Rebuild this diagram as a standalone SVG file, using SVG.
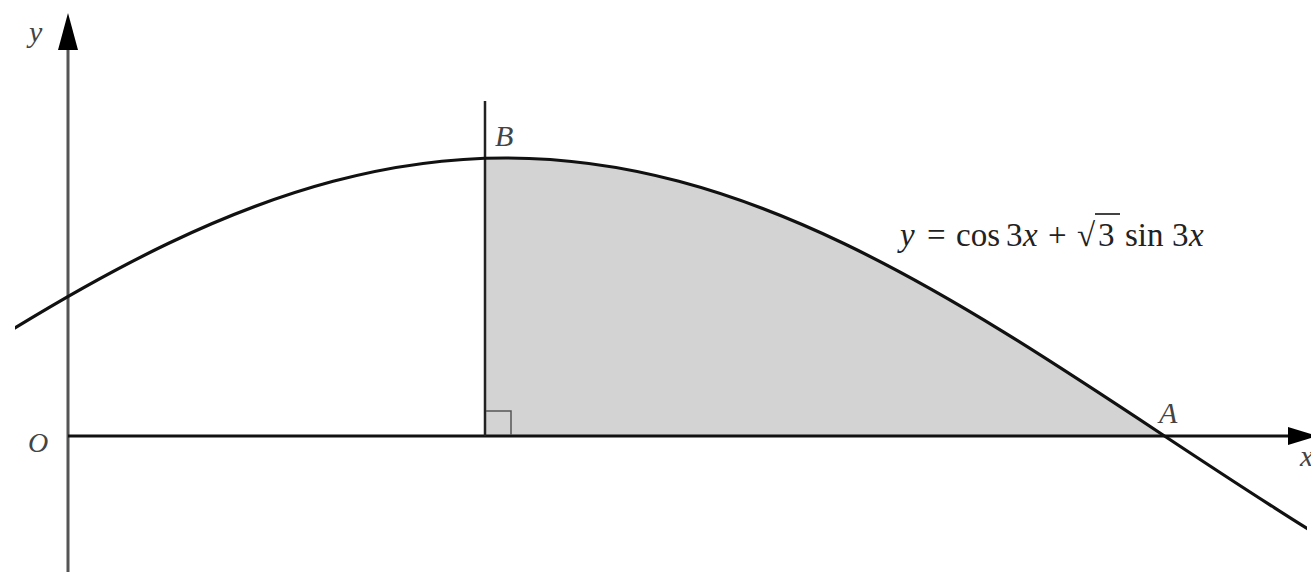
<svg xmlns="http://www.w3.org/2000/svg" width="1311" height="572" viewBox="0 0 1311 572">
<style>
text{font-family:'Liberation Serif','DejaVu Serif','Times New Roman',serif;}
.lbl{font-style:italic;fill:#444;}
.eq{font-size:33px;fill:#222;}
.it{font-style:italic;}
.curve{fill:none;stroke:#111;stroke-width:3.2;}
</style>
<defs>
<clipPath id="cclip"><rect x="15" y="0" width="1292" height="572"/></clipPath>
</defs>
<rect width="1311" height="572" fill="#fff"/>
<g id="shaded-region">
<path d="M485,435 L485,158.3 L506,158 C743.8,158 948.7,293.1 1163,435 Z" fill="#d3d3d3" stroke="none"/>
</g>
<g id="axes">
<line x1="68" y1="572" x2="68" y2="48" stroke="#555" stroke-width="3"/>
<polygon points="68,13 58,50 78,50" fill="#000"/>
<line x1="68" y1="436" x2="1290" y2="436" stroke="#111" stroke-width="3"/>
<polygon points="1318,436 1288,427 1288,445" fill="#000"/>
</g>
<g id="connectors">
<line x1="485" y1="101" x2="485" y2="436" stroke="#222" stroke-width="2.5"/>
<polyline points="486,411 511,411 511,435" fill="none" stroke="#555" stroke-width="1.5"/>
</g>
<g id="curve">
<path class="curve" clip-path="url(#cclip)" d="M-151,435 C63.3,293.1 268.2,158 506,158 C743.8,158 948.7,293.1 1163,435 C1377.3,576.9 1582.2,712 1820,712"/>
</g>
<g id="labels">
<text class="lbl" x="29" y="42" font-size="30">y</text>
<text class="lbl" x="28" y="452" font-size="28">O</text>
<text class="lbl" x="495" y="146" font-size="30">B</text>
<text class="lbl" x="1159" y="423" font-size="30">A</text>
<text class="lbl" x="1300" y="466" font-size="30">x</text>
</g>
<g id="equation">
<text class="eq" y="246"><tspan class="it" x="900">y</tspan><tspan x="927">=</tspan><tspan x="956">cos</tspan><tspan x="1006">3</tspan><tspan class="it" x="1023">x</tspan><tspan x="1048">+</tspan><tspan x="1077">√</tspan><tspan x="1098">3</tspan><tspan x="1125">sin</tspan><tspan x="1172">3</tspan><tspan class="it" x="1189">x</tspan></text>
<line x1="1095" y1="214" x2="1120" y2="214" stroke="#222" stroke-width="1.7"/>
</g>
</svg>
